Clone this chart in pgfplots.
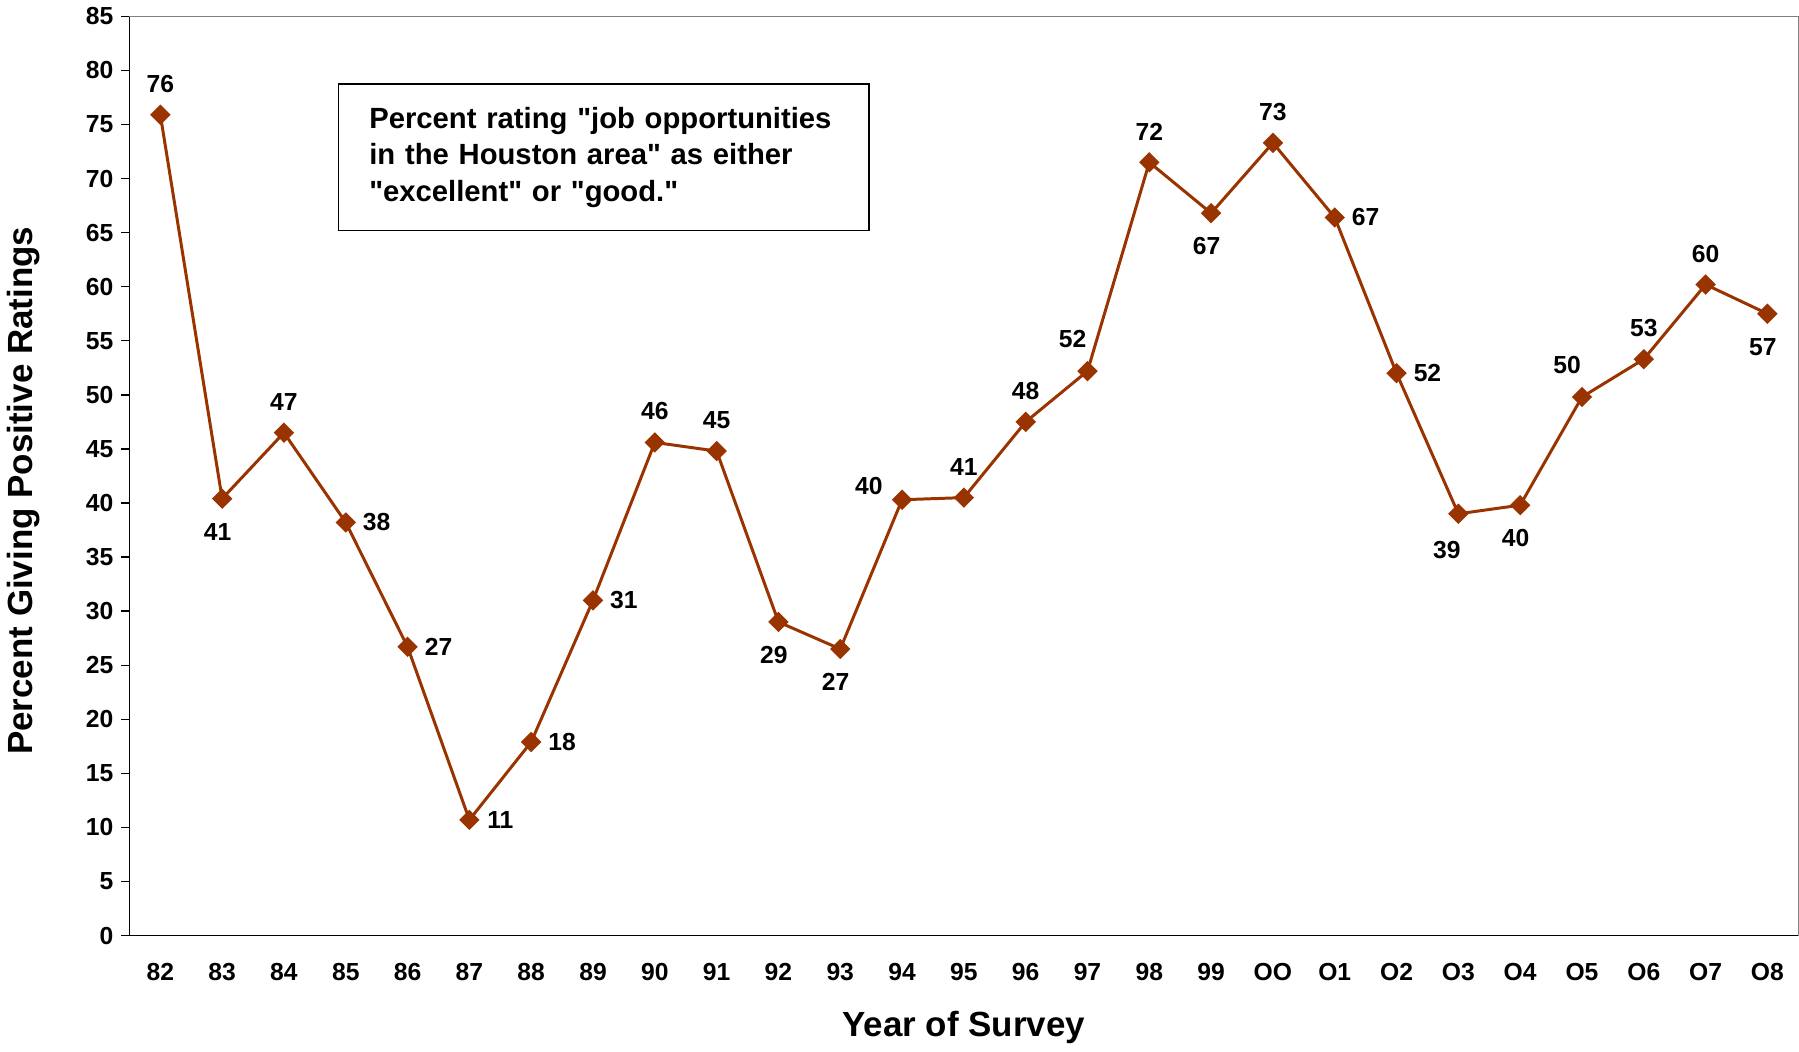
\documentclass[border=0pt]{standalone}
\usepackage{pgfplots}
\pgfplotsset{compat=1.18}
\usepackage{fontspec}
\setmainfont{Liberation Sans}[Ligatures=TeXOff]
\definecolor{lc}{HTML}{993300}
\begin{document}
\begin{tikzpicture}
\begin{axis}[
  scale only axis,
  width=728bp, height=401bp,
  xmin=-0.5, xmax=26.5, ymin=0, ymax=85,
  axis lines=left,
  axis line style={-, black, line width=0.6bp},
  ytick={0,5,...,85},
  xtick={0,...,26},
  xticklabels={82,83,84,85,86,87,88,89,90,91,92,93,94,95,96,97,98,99,OO,O1,O2,O3,O4,O5,O6,O7,O8},
  tick align=outside,
  y tick style={black, line width=0.6bp},
  ytick pos=left,
  major tick length=3.5bp,
  x tick style={draw=none},
  xticklabel style={font=\fontsize{10.8}{12}\selectfont\bfseries, yshift=-5bp},
  yticklabel style={font=\fontsize{10.8}{12}\selectfont\bfseries},
  /pgf/number format/assume math mode=true,
  xlabel={Year of Survey},
  ylabel={Percent Giving Positive Ratings},
  every axis x label/.style={at={(axis description cs:0.5,0)}, anchor=center, yshift=-40bp, font=\fontsize{15.3}{18}\selectfont\bfseries},
  every axis y label/.style={at={(axis description cs:0,0.484)}, anchor=center, rotate=90, yshift=46bp, font=\fontsize{15.3}{18}\selectfont\bfseries},
  clip=false,
  nodes near coords,
  point meta=explicit symbolic,
  every node near coord/.append style={font=\fontsize{10.8}{12}\selectfont\bfseries, anchor=center, inner sep=0pt},
]
\draw[gray, line width=0.6bp] (rel axis cs:0,1) -- (rel axis cs:1,1) -- (rel axis cs:1,0);
% main series
\addplot[color=lc, line width=1.3bp, mark=square*, mark size=2.5bp, mark options={rotate=45, fill=lc}, nodes near coords={}] coordinates {
(0,75.9) (1,40.4) (2,46.5) (3,38.2) (4,26.7) (5,10.7) (6,17.9) (7,31.0) (8,45.6) (9,44.8)
(10,29.0) (11,26.5) (12,40.3) (13,40.5) (14,47.5) (15,52.2) (16,71.5) (17,66.8) (18,73.3)
(19,66.4) (20,52.0) (21,39.0) (22,39.8) (23,49.8) (24,53.3) (25,60.2) (26,57.5)
};
% labels above
\addplot[draw=none, mark=none, every node near coord/.append style={yshift=13.5bp}] coordinates {
(0,75.9) [76] (2,46.5) [47] (8,45.6) [46] (9,44.8) [45] (13,40.5) [41] (14,47.5) [48]
(16,71.5) [72] (18,73.3) [73] (24,53.3) [53] (25,60.2) [60]
};
% labels above-left
\addplot[draw=none, mark=none, every node near coord/.append style={xshift=-6.5bp, yshift=14bp}] coordinates {
(15,52.2) [52] (23,49.8) [50]
};
\addplot[draw=none, mark=none, every node near coord/.append style={xshift=-14.5bp, yshift=6bp}] coordinates {
(12,40.3) [40]
};
% labels right
\addplot[draw=none, mark=none, every node near coord/.append style={xshift=13.5bp}] coordinates {
(3,38.2) [38] (4,26.7) [27] (5,10.7) [11] (6,17.9) [18] (7,31.0) [31] (19,66.4) [67] (20,52.0) [52]
};
% labels below
\addplot[draw=none, mark=none, every node near coord/.append style={yshift=-14.5bp, xshift=-2bp}] coordinates {
(1,40.4) [41] (10,29.0) [29] (11,26.5) [27] (17,66.8) [67] (22,39.8) [40] (26,57.5) [57]
};
\addplot[draw=none, mark=none, every node near coord/.append style={yshift=-16bp, xshift=-5bp}] coordinates {
(21,39.0) [39]
};
\node[draw=black, line width=0.6bp, anchor=north west, minimum width=231.5bp, minimum height=64bp,
      inner xsep=13.5bp, align=left, font=\fontsize{12.8}{16}\selectfont\bfseries, text width=204.5bp]
  at (axis cs:2.87,78.8) {Percent rating "job opportunities\\in the Houston area" as either\\"excellent" or "good."};
\end{axis}
\end{tikzpicture}
\end{document}
